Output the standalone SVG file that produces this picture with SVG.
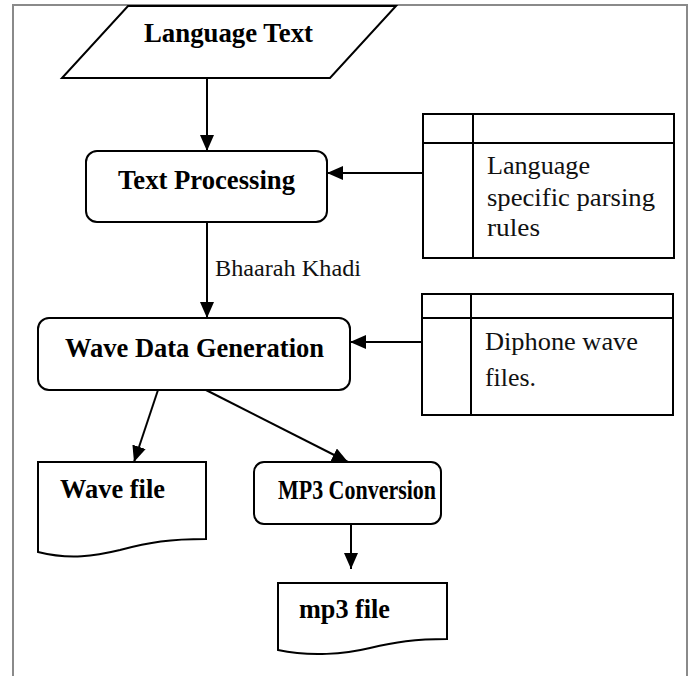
<svg xmlns="http://www.w3.org/2000/svg" width="691" height="676" viewBox="0 0 691 676">
<style>
.frame{fill:none;stroke:#8a8a8a;stroke-width:2}
.shape{fill:#fff;stroke:#000;stroke-width:2}
.ln{fill:none;stroke:#000;stroke-width:2}
.b{font-family:"Liberation Serif","Times New Roman",serif;font-weight:bold;font-size:27px;fill:#000}
.r{font-family:"Liberation Serif","Times New Roman",serif;font-size:26px;fill:#111}
.lbl{font-family:"Liberation Serif","Times New Roman",serif;font-size:23px;fill:#111}
</style>
<defs>
<marker id="ah" viewBox="0 0 16 14" refX="16" refY="7" markerWidth="16" markerHeight="14" markerUnits="userSpaceOnUse" orient="auto">
<path d="M0,0 L16,7 L0,14 Z" fill="#000"/>
</marker>
</defs>
<rect width="691" height="676" fill="#fff"/>
<path class="frame" d="M13,680 L13,5 L687,5 L687,680"/>

<g id="connectors">
<line class="ln" x1="207" y1="78" x2="207" y2="151" marker-end="url(#ah)"/>
<line class="ln" x1="423" y1="173" x2="327" y2="173" marker-end="url(#ah)"/>
<line class="ln" x1="207" y1="222" x2="207" y2="318" marker-end="url(#ah)"/>
<text class="lbl" x="215" y="276" textLength="146" lengthAdjust="spacingAndGlyphs">Bhaarah Khadi</text>
<line class="ln" x1="422" y1="342" x2="350" y2="342" marker-end="url(#ah)"/>
<line class="ln" x1="158" y1="390" x2="134" y2="462" marker-end="url(#ah)"/>
<line class="ln" x1="206" y1="390" x2="348" y2="462" marker-end="url(#ah)"/>
<line class="ln" x1="351" y1="523" x2="351" y2="569" marker-end="url(#ah)"/>
</g>

<g id="language-text">
<polygon class="shape" points="128,6 396,6 330,78 62,78"/>
<text class="b" x="144" y="42" textLength="169" lengthAdjust="spacingAndGlyphs">Language Text</text>
</g>

<g id="text-processing">
<rect class="shape" x="86" y="151" width="241" height="71" rx="11"/>
<text class="b" x="118" y="189" textLength="177" lengthAdjust="spacingAndGlyphs">Text Processing</text>
</g>

<g id="parsing-rules">
<rect class="shape" x="423" y="114" width="251" height="144"/>
<line class="ln" x1="473" y1="114" x2="473" y2="258"/>
<line class="ln" x1="423" y1="143" x2="674" y2="143"/>
<text class="r" x="487" y="174" textLength="103" lengthAdjust="spacingAndGlyphs">Language</text>
<text class="r" x="487" y="206" textLength="168" lengthAdjust="spacingAndGlyphs">specific parsing</text>
<text class="r" x="487" y="236" textLength="53" lengthAdjust="spacingAndGlyphs">rules</text>
</g>

<g id="wave-data-generation">
<rect class="shape" x="38" y="318" width="312" height="72" rx="11"/>
<text class="b" x="65" y="357" textLength="259" lengthAdjust="spacingAndGlyphs">Wave Data Generation</text>
</g>

<g id="diphone-files">
<rect class="shape" x="422" y="294" width="251" height="121"/>
<line class="ln" x1="471" y1="294" x2="471" y2="415"/>
<line class="ln" x1="422" y1="318" x2="673" y2="318"/>
<text class="r" x="485" y="350" textLength="153" lengthAdjust="spacingAndGlyphs">Diphone wave</text>
<text class="r" x="485" y="386" textLength="51" lengthAdjust="spacingAndGlyphs">files.</text>
</g>

<g id="wave-file">
<path class="shape" d="M38,462 L206,462 L206,539 C170,539 150,542 120,550 C95,556 70,560 38,552 Z"/>
<text class="b" x="60" y="498" textLength="105" lengthAdjust="spacingAndGlyphs">Wave file</text>
</g>

<g id="mp3-conversion">
<rect class="shape" x="254" y="462" width="187" height="62" rx="10"/>
<text class="b" x="278" y="499" textLength="158" lengthAdjust="spacingAndGlyphs">MP3 Conversion</text>
</g>

<g id="mp3-file">
<path class="shape" d="M278,583 L447,583 L447,639 C415,639 395,642 370,648 C345,654 310,657 278,650 Z"/>
<text class="b" x="299" y="618" textLength="91" lengthAdjust="spacingAndGlyphs">mp3 file</text>
</g>
</svg>
